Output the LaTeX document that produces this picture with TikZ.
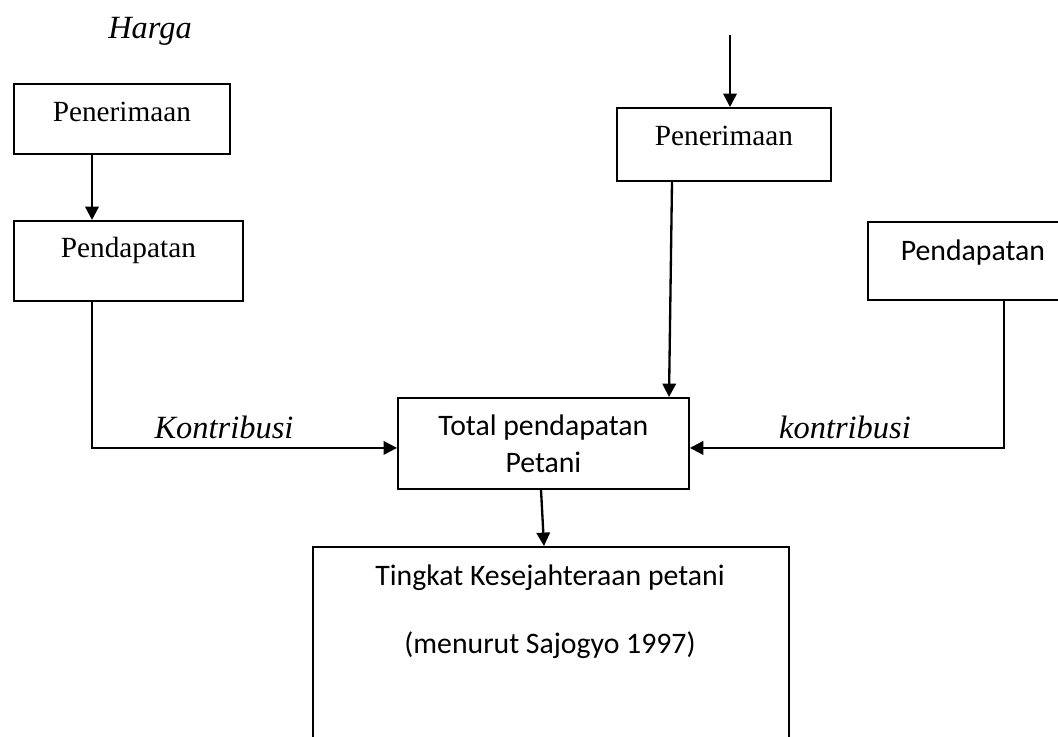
\documentclass[tikz,border=0pt]{standalone}
\usepackage{fontspec}
\setmainfont{Liberation Serif}
\newfontfamily\calibri{Carlito}
\usepackage{tikz}
\usetikzlibrary{arrows.meta,positioning,calc}

\begin{document}
\begin{tikzpicture}[
  x=0.41pt, y=-0.41pt,
  box/.style={rectangle, draw=black, line width=0.75pt, anchor=north west, inner sep=0pt, align=center, font=\fontsize{12}{14}\selectfont},
  cbox/.style={box, font=\calibri\fontsize{12.2}{15.2}\selectfont},
  arrow/.style={-{Triangle[length=5.5pt,width=5.5pt]}, line width=0.95pt},
  lbl/.style={font=\itshape\fontsize{13.3}{15}\selectfont, inner sep=0pt}
]
\clip (0,0) rectangle (1058,736);
\useasboundingbox (0,0) rectangle (1058,736);

% Title
\node[lbl] (harga) at (150,31) {Harga};

% Left column
\node[box, minimum width=216*0.41pt, minimum height=70*0.41pt, text depth=6pt] (pen1) at (13,83) {Penerimaan};
\node[box, minimum width=229*0.41pt, minimum height=80*0.41pt, text depth=11pt] (pend1) at (13,220) {Pendapatan};

% Middle column
\coordinate (src) at (730,35);
\node[box, minimum width=214*0.41pt, minimum height=73*0.41pt, text depth=7pt] (pen2) at (616,107) {Penerimaan};

% Right column
\node[cbox, minimum width=210*0.41pt, minimum height=78*0.41pt, text depth=9pt] (pend2) at (867,221) {Pendapatan};

% Total
\node[cbox, minimum width=291*0.41pt, minimum height=91*0.41pt] (total) at (397,397) {Total pendapatan\\Petani};

% Result
\node[cbox, minimum width=476*0.41pt, minimum height=240*0.41pt] (tingkat) at (312,546) {};
\node[font=\calibri\fontsize{12.2}{14}\selectfont, inner sep=0pt] (tingkat1) at (550,578) {Tingkat Kesejahteraan petani};
\node[font=\calibri\fontsize{12.2}{14}\selectfont, inner sep=0pt] (tingkat2) at (550,645) {(menurut Sajogyo 1997)};

% Arrows
\draw[arrow] ($(pen1.south west)+(79,0)$) -- ($(pend1.north west)+(79,0)$);
\draw[arrow] (src) -- ($(pen2.north west)+(114,0)$);
\draw[arrow] ($(pen2.south west)+(56,0)$) -- ($(total.north west)+(272,0)$);
\draw[arrow] ($(pend1.south west)+(79,0)$) |- ($(total.west)+(0,4.5)$);
\draw[arrow] ($(pend2.south west)+(137,0)$) |- ($(total.east)+(0,4.5)$);
\draw[arrow] ($(total.south west)+(144,0)$) -- ($(tingkat.north west)+(232,0)$);

% Labels
\node[lbl] (kon1) at (224,427) {Kontribusi};
\node[lbl] (kon2) at (845,427) {kontribusi};

\end{tikzpicture}
\end{document}
